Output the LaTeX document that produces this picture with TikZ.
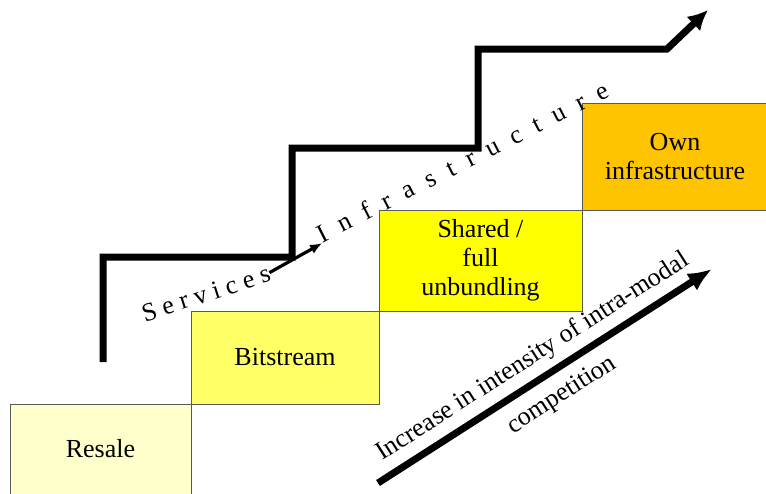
\documentclass[tikz,border=0pt]{standalone}
\usepackage{fontspec}
\setmainfont{Liberation Serif}
\usetikzlibrary{arrows.meta,positioning}

\definecolor{resalecol}{HTML}{FFFFCC}
\definecolor{bitcol}{HTML}{FFFF66}
\definecolor{sharedcol}{HTML}{FFFF00}
\definecolor{owncol}{HTML}{FFC400}
\newcommand{\stepfont}{\fontsize{13}{14.5}\selectfont}

\tikzset{
	stepbox/.style={
			draw=black!65, line width=0.5pt, inner sep=0pt, outer sep=0pt,
			align=center, font=\stepfont
		},
	stair/.style={line width=3.5pt, -{Latex[length=10pt,width=10pt]}},
	bigarrow/.style={line width=3.5pt, -{Latex[length=12pt,width=10pt]}},
	spaced/.style={inner sep=0pt, outer sep=0pt, font=\stepfont}
}

\begin{document}
\begin{tikzpicture}[x=0.5pt, y=-0.5pt]

			\useasboundingbox (0,0) rectangle (766,493);

			% The four steps
			\node[stepbox, fill=resalecol, minimum width=90.5pt, minimum height=45pt, anchor=north west] (resale) at (10,404) {Resale};
			\node[stepbox, fill=bitcol, minimum width=94pt, minimum height=46.5pt, anchor=south west] (bitstream) at (resale.north east) {Bitstream};
			\node[stepbox, fill=sharedcol, minimum width=101.5pt, minimum height=50.5pt, anchor=south west] (shared) at (bitstream.north east) {Shared /\\full\\unbundling};
			\node[stepbox, fill=owncol, minimum width=93pt, minimum height=53.5pt, anchor=south west] (own) at (shared.north east) {Own\\infrastructure};

			% The staircase
			\draw[stair] (103,362) -- (103,257) -- (292,257) -- (292,148) -- (478,148) -- (478,49) -- (667,49) -- (708,10);

			% Services -> Infrastructure
			\node[spaced, rotate=18, anchor=base west] (services) at (145,322) {\addfontfeature{LetterSpace=25}Services};
			\node[spaced, rotate=27, anchor=base west] (infra) at (322,243) {\addfontfeature{LetterSpace=54}Infrastructure};
			\draw[line width=1.6pt, -{Latex[length=6pt,width=5pt]}] (services.east) -- (infra.south west);

			% Competition arrow
			\coordinate (c0) at (378,483);
			\coordinate (c1) at (712,269);
			\draw[bigarrow] (c0) -- (c1)
			node[pos=0.5, sloped, above=3.5pt, inner sep=0pt, font=\stepfont] (incr) {Increase in intensity of intra-modal}
			node[pos=0.51, sloped, below=5.5pt, inner sep=0pt, font=\stepfont] (compet) {competition};

		\end{tikzpicture}
\end{document}
